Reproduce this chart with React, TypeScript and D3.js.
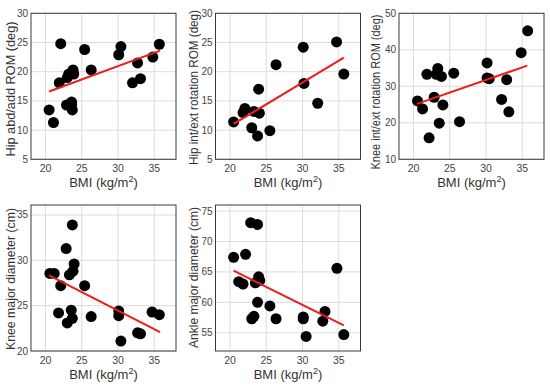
import React from 'react';
import * as d3 from 'd3';

// Hip abd/add ROM
const hipAbdBmi = [20.5, 21.1, 22.1, 21.9, 22.9, 23.0, 23.2, 23.6, 23.6, 23.7, 23.8, 23.9, 25.4, 26.3, 30.1, 30.4, 32.0, 32.7, 33.1, 34.8, 35.7];
const hipAbdRom = [13.45, 11.3, 24.8, 18.1, 14.3, 19.0, 19.6, 14.4, 14.8, 13.45, 20.3, 19.6, 23.8, 20.3, 22.9, 24.3, 18.1, 21.5, 18.8, 22.5, 24.7];
const hipAbdFit = [[20.5, 16.6], [35.8, 23.6]];

// Hip int/ext rotation ROM
const hipRotBmi = [20.5, 21.8, 22.05, 23.0, 23.3, 23.8, 23.95, 24.05, 25.5, 26.35, 30.1, 30.2, 32.1, 34.7, 35.7];
const hipRotRom = [11.4, 13.0, 13.7, 10.4, 13.2, 9.0, 17.0, 12.9, 9.9, 21.2, 24.2, 18.0, 14.6, 25.1, 19.6];
const hipRotFit = [[20.5, 11.05], [35.7, 22.4]];

// Knee int/ext rotation ROM
const kneeRotBmi = [20.55, 21.25, 21.85, 22.15, 22.85, 23.15, 23.35, 23.85, 23.55, 24.05, 25.55, 26.35, 30.15, 30.15, 30.45, 32.15, 32.85, 33.15, 34.85, 35.75];
const kneeRotRom = [26.0, 23.8, 33.3, 15.9, 27.0, 33.3, 34.9, 32.7, 19.9, 24.9, 33.6, 20.3, 36.4, 32.3, 32.1, 26.4, 31.8, 23.0, 39.2, 45.2];
const kneeRotFit = [[20.5, 25.2], [35.7, 35.65]];

// Knee major diameter
const kneeDiaBmi = [20.6, 21.2, 21.8, 22.1, 22.85, 23.0, 23.3, 23.55, 23.7, 23.7, 23.8, 23.95, 25.4, 26.3, 30.1, 30.1, 30.4, 32.7, 33.1, 34.7, 35.7];
const kneeDiaCm = [28.56, 28.56, 24.2, 27.2, 31.3, 23.1, 28.4, 24.5, 33.9, 23.6, 28.8, 29.6, 27.2, 23.8, 24.4, 23.9, 21.1, 22.0, 21.9, 24.3, 24.0];
const kneeDiaFit = [[20.5, 28.34], [35.8, 22.08]];

// Ankle major diameter
const ankleDiaBmi = [20.5, 21.2, 21.8, 22.15, 22.85, 23.0, 23.3, 23.5, 23.8, 23.8, 23.95, 24.1, 25.5, 26.35, 30.1, 30.1, 30.5, 32.8, 33.1, 34.75, 35.7];
const ankleDiaCm = [67.4, 63.4, 63.0, 67.9, 73.1, 57.3, 57.7, 63.2, 72.8, 60.0, 64.2, 63.6, 59.4, 57.3, 57.6, 57.3, 54.4, 56.9, 58.5, 65.6, 54.7];
const ankleDiaFit = [[20.5, 65.2], [35.7, 56.2]];

const bmiTicks = [20, 25, 30, 35];

const FONT = 'Arial, "Liberation Sans", sans-serif';

type PanelProps = {
  x0: number;
  y0: number;
  yLabel: string;
  yDomain: [number, number];
  yTicks: number[];
  xs: number[];
  ys: number[];
  fit: number[][];
  labelX: number;
  labelY: number;
  labelLen: number;
};

const W = 145;
const H = 146;

const Panel = ({ x0, y0, yLabel, yDomain, yTicks, xs, ys, fit, labelX, labelY, labelLen }: PanelProps) => {
  const x = d3.scaleLinear().domain([18, 38]).range([x0, x0 + W]);
  const y = d3.scaleLinear().domain(yDomain).range([y0 + H, y0]);
  const line = d3.line<number[]>().x(d => x(d[0])).y(d => y(d[1]));

  return (
    <g>
      {bmiTicks.map(t => (
        <line key={'gx' + t} x1={x(t)} x2={x(t)} y1={y0} y2={y0 + H} stroke="#dcdcdc" strokeWidth={1} />
      ))}
      {yTicks.map(t => (
        <line key={'gy' + t} x1={x0} x2={x0 + W} y1={y(t)} y2={y(t)} stroke="#dcdcdc" strokeWidth={1} />
      ))}
      <rect x={x0} y={y0} width={W} height={H} fill="none" stroke="#3a3a3a" strokeWidth={1} />
      {bmiTicks.map(t => (
        <text key={'tx' + t} x={x(t)} y={y0 + H + 12.5} textAnchor="middle" fontSize={10.5} fill="#444" fontFamily={FONT}>{t}</text>
      ))}
      {yTicks.map(t => (
        <text key={'ty' + t} x={x0 - 3} y={y(t) + 3.5} textAnchor="end" fontSize={10} fill="#444" fontFamily={FONT}>{t}</text>
      ))}
      {xs.map((v, i) => (
        <circle key={'p' + i} cx={x(v)} cy={y(ys[i])} r={5.5} fill="#000" />
      ))}
      <path d={line(fit) || ''} stroke="#ee1c1c" strokeWidth={2} fill="none" />
      <text x={x0 + W / 2} y={y0 + H + 28} textAnchor="middle" fontSize={13} fill="#333" fontFamily={FONT}>
        BMI (kg/m<tspan dy={-5} fontSize={9}>2</tspan><tspan dy={5}>)</tspan>
      </text>
      <text
        transform={`translate(${labelX},${labelY}) rotate(-90)`}
        textAnchor="middle"
        fontSize={12.5}
        fill="#333"
        fontFamily={FONT}
        textLength={labelLen}
        lengthAdjust="spacingAndGlyphs"
      >
        {yLabel}
      </text>
    </g>
  );
};

export default function App() {
  return (
    <svg width={550} height={390} style={{ position: 'absolute', left: 0, top: 0, background: '#fff' }}>
      <Panel x0={31} y0={13.3} yLabel="Hip abd/add ROM (deg)" yDomain={[5, 30]} yTicks={[5, 10, 15, 20, 25, 30]}
        xs={hipAbdBmi} ys={hipAbdRom} fit={hipAbdFit} labelX={15} labelY={89} labelLen={135} />
      <Panel x0={215.5} y0={13.3} yLabel="Hip int/ext rotation ROM (deg)" yDomain={[5, 30]} yTicks={[5, 10, 15, 20, 25, 30]}
        xs={hipRotBmi} ys={hipRotRom} fit={hipRotFit} labelX={197.5} labelY={87.5} labelLen={155} />
      <Panel x0={399} y0={13.3} yLabel="Knee int/ext rotation ROM (deg)" yDomain={[10, 50]} yTicks={[10, 20, 30, 40, 50]}
        xs={kneeRotBmi} ys={kneeRotRom} fit={kneeRotFit} labelX={379.5} labelY={92} labelLen={155} />
      <Panel x0={31} y0={205} yLabel="Knee major diameter  (cm)" yDomain={[20, 36.1]} yTicks={[20, 25, 30, 35]}
        xs={kneeDiaBmi} ys={kneeDiaCm} fit={kneeDiaFit} labelX={15} labelY={279} labelLen={142} />
      <Panel x0={215.5} y0={205} yLabel="Ankle major diameter (cm)" yDomain={[52, 76]} yTicks={[55, 60, 65, 70, 75]}
        xs={ankleDiaBmi} ys={ankleDiaCm} fit={ankleDiaFit} labelX={197.5} labelY={277.5} labelLen={141} />
    </svg>
  );
}
